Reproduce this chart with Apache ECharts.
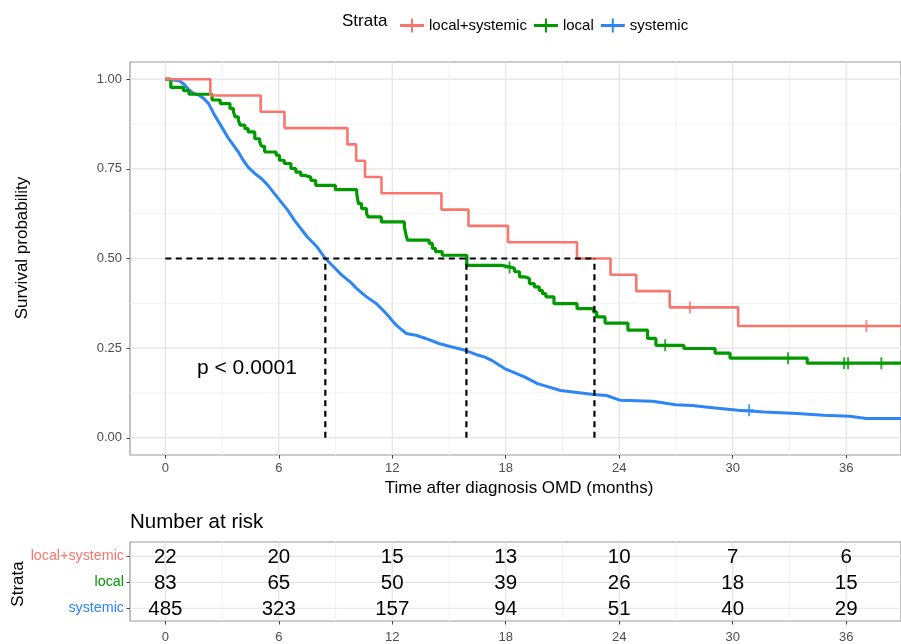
<!DOCTYPE html>
<html><head><meta charset="utf-8">
<script src="https://cdn.jsdelivr.net/npm/echarts@6/dist/echarts.min.js"></script>
<style>html,body{margin:0;padding:0;background:#fff}#c{width:901px;height:644px}</style>
</head><body><div id="c"></div>
<script>
// ---------------- data ----------------
const strata = ['local+systemic', 'local', 'systemic'];
const timeTicks = [0, 6, 12, 18, 24, 30, 36];
const minorTimeTicks = [3, 9, 15, 21, 27, 33];
const probTicks = [0, 0.25, 0.5, 0.75, 1];
const minorProbTicks = [0.125, 0.375, 0.625, 0.875];

const curveLocalSystemic = [[0,1],[2.38,0.9545],[5.04,0.9091],[6.3,0.8636],[9.63,0.8182],[10.09,0.7727],[10.56,0.7273],[11.43,0.6818],[14.6,0.6364],[16.03,0.5909],[18.12,0.5455],[21.77,0.5],[23.54,0.4545],[24.9,0.4091],[26.67,0.3636],[30.29,0.3117],[38.9,0.3117]];
const censorLocalSystemic = [[27.74,0.3636],[37.07,0.3117]];

const curveLocal = [[0,1],[0.29,0.977],[0.96,0.968],[1.25,0.958],[2.47,0.942],[2.9,0.932],[3.42,0.918],[3.6,0.909],[3.69,0.895],[3.86,0.886],[3.95,0.872],[4.21,0.862],[4.38,0.853],[4.73,0.834],[4.99,0.825],[5.08,0.813],[5.25,0.797],[5.86,0.788],[6.03,0.774],[6.29,0.765],[6.64,0.751],[6.9,0.741],[7.16,0.732],[7.34,0.727],[7.69,0.718],[7.95,0.704],[8.99,0.692],[10.12,0.681],[10.21,0.653],[10.38,0.639],[10.64,0.625],[10.73,0.616],[11.42,0.602],[12.64,0.588],[12.73,0.565],[12.81,0.551],[13.95,0.542],[14.12,0.528],[14.29,0.519],[14.64,0.509],[15.94,0.481],[17.77,0.477],[18.2,0.472],[18.47,0.463],[18.73,0.449],[18.99,0.444],[19.25,0.43],[19.51,0.421],[19.77,0.411],[19.94,0.402],[20.12,0.393],[20.55,0.374],[21.77,0.36],[22.64,0.351],[22.81,0.337],[23.25,0.32],[24.46,0.3],[25.5,0.277],[25.94,0.258],[27.42,0.249],[29.07,0.236],[29.86,0.222],[33.94,0.208],[38.9,0.208]];
const censorLocal = [[18.2,0.475],[26.43,0.258],[32.93,0.222],[35.89,0.208],[36.1,0.208],[37.86,0.208]];

const curveSystemic = [[0,1],[0.73,0.996],[0.99,0.986],[1.25,0.97],[1.51,0.96],[1.77,0.956],[2.03,0.946],[2.29,0.932],[2.56,0.904],[2.82,0.881],[3.08,0.858],[3.34,0.835],[3.6,0.816],[3.86,0.797],[4.12,0.774],[4.38,0.755],[4.73,0.737],[5.08,0.723],[5.43,0.704],[5.77,0.681],[6.12,0.658],[6.47,0.635],[6.82,0.607],[7.51,0.56],[8.03,0.532],[8.46,0.5],[8.9,0.477],[9.3,0.455],[9.77,0.435],[10.12,0.416],[10.64,0.393],[11.17,0.374],[11.69,0.346],[12.21,0.314],[12.73,0.291],[13.25,0.286],[13.77,0.277],[14.47,0.263],[15.16,0.253],[15.86,0.244],[16.56,0.23],[16.9,0.225],[17.25,0.216],[17.94,0.193],[18.99,0.17],[19.68,0.151],[20.9,0.132],[22.64,0.121],[23.33,0.118],[24.03,0.105],[25.77,0.102],[26.98,0.092],[27.85,0.09],[29.07,0.083],[30.28,0.077],[31.67,0.072],[33.41,0.068],[34.8,0.063],[36.19,0.06],[37.06,0.054],[38.9,0.054]];
const censorSystemic = [[30.87,0.077]];

const medianTimes = [22.69, 15.92, 8.46];   // local+systemic, local, systemic
const medianLevel = 0.5;
const pValueText = 'p < 0.0001';

const riskLocalSystemic = [22, 20, 15, 13, 10, 7, 6];
const riskLocal = [83, 65, 50, 39, 26, 18, 15];
const riskSystemic = [485, 323, 157, 94, 51, 40, 29];

// ---------------- styles ----------------
const colors = ['#F8766D', '#009A00', '#2C86F4'];
const FONT = 'Liberation Sans, Arial, Helvetica, sans-serif';
const X_MIN = -1.868, X_MAX = 38.9;
const Y_MIN = -0.048, Y_MAX = 1.048;
const T_MIN = 0.51, T_MAX = 3.55;
const MAJOR = '#E3E3E3', MINOR = '#F1F1F1';
const plusPath = 'path://M0,5L4,5L4,0L6,0L6,5L10,5L10,7L6,7L6,12L4,12L4,7L0,7Z';
const legendPath = 'path://M0,5.5L11,5.5L11,0L13,0L13,5.5L24,5.5L24,8.5L13,8.5L13,14L11,14L11,8.5L0,8.5Z';

const chart = echarts.init(document.getElementById('c'), null, {renderer: 'canvas'});

function vLines(values, gi, yExt, color, w) {
  return {
    type: 'custom', xAxisIndex: gi, yAxisIndex: gi, silent: true, z: 1,
    data: values.map(v => [v, yExt[0]]),
    renderItem: (p, api) => {
      const a = api.coord([api.value(0), yExt[0]]);
      const b = api.coord([api.value(0), yExt[1]]);
      return {type: 'line', shape: {x1: a[0], y1: a[1], x2: b[0], y2: b[1]}, style: {stroke: color, lineWidth: w}};
    }
  };
}
function hLines(values, gi, color, w) {
  return {
    type: 'custom', xAxisIndex: gi, yAxisIndex: gi, silent: true, z: 1,
    data: values.map(v => [X_MIN, v]),
    renderItem: (p, api) => {
      const a = api.coord([X_MIN, api.value(1)]);
      const b = api.coord([X_MAX, api.value(1)]);
      return {type: 'line', shape: {x1: a[0], y1: a[1], x2: b[0], y2: b[1]}, style: {stroke: color, lineWidth: w}};
    }
  };
}

const curves = [curveLocalSystemic, curveLocal, curveSystemic];
const censors = [censorLocalSystemic, censorLocal, censorSystemic];
const risks = [riskLocalSystemic, riskLocal, riskSystemic];
const widths = [2.6, 3.2, 3];

const series = [];
series.push(vLines(minorTimeTicks, 0, [Y_MIN, Y_MAX], MINOR, 0.9));
series.push(hLines(minorProbTicks, 0, MINOR, 0.9));
series.push(vLines(timeTicks, 0, [Y_MIN, Y_MAX], MAJOR, 1.2));
series.push(hLines(probTicks, 0, MAJOR, 1.2));

strata.forEach((s, i) => {
  series.push({
    name: s, type: 'line', xAxisIndex: 0, yAxisIndex: 0, data: curves[i],
    step: i === 2 ? false : 'end', showSymbol: false, symbol: 'none', z: 3 + (2 - i) * 0.1,
    lineStyle: {color: colors[i], width: widths[i]}, itemStyle: {color: colors[i]}, silent: true
  });
  series.push({
    name: s, type: 'scatter', xAxisIndex: 0, yAxisIndex: 0, data: censors[i],
    symbol: plusPath, symbolSize: [10, 12], z: 4,
    itemStyle: {color: colors[i]}, silent: true
  });
});

// median dashed lines
const dashStyle = {color: '#000', width: 2.2, type: [6, 4.5]};
series.push({
  type: 'line', xAxisIndex: 0, yAxisIndex: 0, z: 5, silent: true, symbol: 'none',
  data: [[0, medianLevel], [Math.max.apply(null, medianTimes), medianLevel]],
  lineStyle: dashStyle
});
medianTimes.forEach(t => {
  series.push({
    type: 'line', xAxisIndex: 0, yAxisIndex: 0, z: 5, silent: true, symbol: 'none',
    data: [[t, 0], [t, medianLevel]], lineStyle: dashStyle
  });
});

// risk table
series.push(vLines(minorTimeTicks, 1, [T_MIN, T_MAX], MINOR, 0.9));
series.push(vLines(timeTicks, 1, [T_MIN, T_MAX], MAJOR, 1.2));
series.push(hLines([1, 2, 3], 1, MAJOR, 1.2));
const tableData = [];
risks.forEach((arr, i) => arr.forEach((n, j) => tableData.push([timeTicks[j], 3 - i, n])));
series.push({
  type: 'custom', xAxisIndex: 1, yAxisIndex: 1, silent: true, z: 5,
  data: tableData,
  renderItem: (p, api) => {
    const c = api.coord([api.value(0), api.value(1)]);
    return {type: 'text', x: c[0], y: c[1] + 1,
      style: {text: String(api.value(2)), fill: '#000', fontSize: 20.5, fontFamily: FONT, align: 'center', verticalAlign: 'middle'}};
  }
});

const rich = {};
strata.forEach((s, i) => { rich['r' + i] = {color: colors[i], fontSize: 14.3, fontFamily: FONT}; });

const tickStyle = {show: true, length: 3.5, lineStyle: {color: '#444', width: 1}};
const noLine = {show: false, onZero: false};

const option = {
  animation: false,
  backgroundColor: '#fff',
  legend: {
    left: 395, top: 13, itemWidth: 24, itemHeight: 14, itemGap: 7,
    textStyle: {fontSize: 15, color: '#000', fontFamily: FONT},
    data: strata.map(s => ({name: s, icon: legendPath})),
    selectedMode: false
  },
  grid: [
    {left: 130, right: -8, top: 62, height: 393, show: true, borderColor: '#999', borderWidth: 1.2, backgroundColor: 'transparent'},
    {left: 130, right: -8, top: 542, height: 83, show: true, borderColor: '#999', borderWidth: 1.2, backgroundColor: 'transparent'}
  ],
  xAxis: [
    {type: 'value', gridIndex: 0, min: X_MIN, max: X_MAX, position: 'bottom',
      axisLine: noLine, splitLine: {show: false},
      axisTick: Object.assign({customValues: timeTicks}, tickStyle),
      axisLabel: {customValues: timeTicks, color: '#4D4D4D', fontSize: 13, fontFamily: FONT, margin: 7}},
    {type: 'value', gridIndex: 1, min: X_MIN, max: X_MAX, position: 'bottom',
      axisLine: noLine, splitLine: {show: false},
      axisTick: Object.assign({customValues: timeTicks}, tickStyle),
      axisLabel: {customValues: timeTicks, color: '#4D4D4D', fontSize: 13, fontFamily: FONT, margin: 10}}
  ],
  yAxis: [
    {type: 'value', gridIndex: 0, min: Y_MIN, max: Y_MAX, position: 'left',
      axisLine: noLine, splitLine: {show: false},
      axisTick: Object.assign({customValues: probTicks}, tickStyle),
      axisLabel: {customValues: probTicks, color: '#4D4D4D', fontSize: 13, fontFamily: FONT, margin: 8,
        formatter: v => v.toFixed(2)}},
    {type: 'value', gridIndex: 1, min: T_MIN, max: T_MAX, position: 'left',
      axisLine: noLine, splitLine: {show: false},
      axisTick: Object.assign({customValues: [1, 2, 3]}, tickStyle),
      axisLabel: {customValues: [1, 2, 3], margin: 6, rich: rich,
        formatter: v => { const i = 3 - Math.round(v); return '{r' + i + '|' + strata[i] + '}'; }}}
  ],
  graphic: [
    {type: 'text', x: 342, y: 21, silent: true, style: {text: 'Strata', fontSize: 17, fill: '#000', fontFamily: FONT, align: 'left', verticalAlign: 'middle'}},
    {type: 'text', x: 22, y: 248, rotation: Math.PI / 2, silent: true, style: {text: 'Survival probability', fontSize: 17, fill: '#000', fontFamily: FONT, align: 'center', verticalAlign: 'middle'}},
    {type: 'text', x: 519, y: 488, silent: true, style: {text: 'Time after diagnosis OMD (months)', fontSize: 17, fill: '#000', fontFamily: FONT, align: 'center', verticalAlign: 'middle'}},
    {type: 'text', x: 197, y: 368, silent: true, z: 10, style: {text: pValueText, fontSize: 21, fill: '#000', fontFamily: FONT, align: 'left', verticalAlign: 'middle'}},
    {type: 'text', x: 130, y: 522, silent: true, style: {text: 'Number at risk', fontSize: 20.5, fill: '#000', fontFamily: FONT, align: 'left', verticalAlign: 'middle'}},
    {type: 'text', x: 18, y: 584, rotation: Math.PI / 2, silent: true, style: {text: 'Strata', fontSize: 17, fill: '#000', fontFamily: FONT, align: 'center', verticalAlign: 'middle'}}
  ],
  series: series
};
chart.setOption(option);
</script>
</body></html>
